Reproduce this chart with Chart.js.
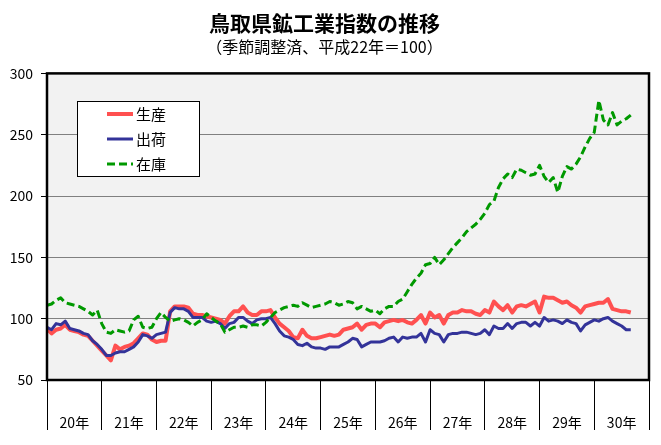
<!DOCTYPE html>
<html>
<head>
<meta charset="utf-8">
<script src="https://cdn.jsdelivr.net/npm/chart.js@4.4.1/dist/chart.umd.min.js"></script>
<style>
  html, body { margin: 0; padding: 0; background: #fff; }
  #wrap { width: 661px; height: 445px; }
</style>
</head>
<body>
<div id="wrap"><canvas id="chart" width="661" height="445"></canvas></div>
<script>
// Year labels (Heisei 20-30), one per 12 months on the x axis
const years = ['20年', '21年', '22年', '23年', '24年', '25年', '26年', '27年', '28年', '29年', '30年'];

// Monthly indices, Jan H20 .. Sep H30
const production = [
  92, 88, 91, 92, 95, 91, 90, 89, 87, 86, 82, 78,
  74, 70, 66, 78, 75, 77, 78, 80, 84, 88, 87, 83,
  81, 82, 82, 106, 110, 110, 110, 109, 104, 103, 103, 102,
  101, 100, 99, 96, 102, 106, 106, 110, 105, 103, 103, 106,
  106, 107, 101, 96, 93, 90, 85, 84, 91, 86, 84, 84,
  85, 86, 87, 86, 87, 91, 92, 93, 96, 91, 95, 96,
  96, 93, 97, 98, 99, 98, 99, 97, 96, 99, 103, 96,
  105, 101, 103, 96, 103, 105, 105, 107, 106, 106, 104, 103,
  107, 105, 114, 110, 107, 111, 105, 110, 111, 110, 112, 114,
  105, 118, 117, 117, 115, 113, 114, 111, 109, 105, 110, 111,
  112, 113, 113, 116, 108, 107, 106, 106, 105
];

const shipments = [
  93, 91, 96, 95, 98, 92, 91, 90, 88, 87, 82, 79,
  75, 70, 70, 72, 73, 73, 75, 77, 81, 87, 86, 84,
  87, 88, 89, 105, 109, 108, 108, 106, 101, 101, 101, 98,
  97, 98, 96, 92, 96, 97, 101, 101, 98, 96, 99, 100,
  100, 101, 96, 90, 86, 85, 83, 79, 78, 80, 77, 76,
  76, 75, 77, 77, 77, 79, 81, 84, 83, 77, 79, 81,
  81, 81, 82, 84, 85, 81, 85, 84, 85, 85, 88, 81,
  91, 88, 87, 81, 87, 88, 88, 89, 89, 88, 87, 88,
  91, 87, 94, 92, 92, 96, 92, 96, 97, 97, 94, 97,
  94, 101, 98, 99, 98, 96, 99, 97, 96, 90, 95, 97,
  99, 98, 100, 101, 98, 96, 94, 91, 91
];

const inventory = [
  111, 112, 115, 117, 113, 112, 111, 110, 108, 106, 103, 107,
  96, 89, 88, 91, 90, 89, 90, 99, 102, 93, 92, 93,
  100, 105, 101, 98, 99, 100, 99, 97, 94, 97, 99, 104,
  101, 98, 96, 89, 91, 93, 93, 94, 93, 95, 95, 94,
  97, 101, 105, 107, 109, 110, 111, 110, 113, 111, 109, 110,
  111, 112, 114, 113, 111, 112, 114, 113, 108, 110, 108, 106,
  107, 104, 108, 110, 110, 114, 116, 122, 128, 133, 137, 144,
  145, 150, 144, 148, 153, 158, 162, 166, 171, 174, 177, 181,
  186, 193, 196, 207, 214, 218, 215, 222, 221, 219, 217, 218,
  225, 216, 211, 215, 203, 216, 224, 222, 226, 232, 240, 247,
  252, 278, 262, 258, 268, 258, 261, 263, 266
];

const months = production.map((_, i) => i);
const FONT = '"Noto Sans CJK JP", "Noto Sans", sans-serif';

Chart.defaults.color = '#000';
Chart.defaults.font.family = FONT;

// grey plot background + black frame around the plot area
const plotFrame = {
  id: 'plotFrame',
  beforeDraw(chart) {
    const { ctx, chartArea: a } = chart;
    ctx.save();
    ctx.fillStyle = '#f2f2f2';
    ctx.fillRect(a.left, a.top, a.right - a.left, a.bottom - a.top);
    ctx.restore();
  },
  afterDatasetsDraw(chart) {
    const { ctx, chartArea: a } = chart;
    ctx.save();
    ctx.strokeStyle = '#000';
    ctx.lineWidth = 2.5;
    ctx.strokeRect(a.left, a.top, a.right - a.left, a.bottom - a.top);
    ctx.restore();
  }
};

// boxed legend inside the plot, top left
const boxLegend = {
  id: 'boxLegend',
  afterDraw(chart) {
    const { ctx, chartArea: a } = chart;
    const x = Math.round(a.left + 30), y = Math.round(a.top + 28), w = 122, h = 75;
    ctx.save();
    ctx.fillStyle = '#fff';
    ctx.fillRect(x, y, w, h);
    ctx.strokeStyle = '#000';
    ctx.lineWidth = 1;
    ctx.strokeRect(x + 0.5, y + 0.5, w, h);
    chart.data.datasets.forEach((ds, k) => {
      const ly = y + 13 + k * 25;
      ctx.beginPath();
      ctx.strokeStyle = ds.borderColor;
      ctx.lineWidth = ds.borderWidth;
      ctx.setLineDash(ds.borderDash || []);
      ctx.moveTo(x + 30, ly);
      ctx.lineTo(x + 56, ly);
      ctx.stroke();
      ctx.setLineDash([]);
      ctx.fillStyle = '#000';
      ctx.font = '15px ' + FONT;
      ctx.textBaseline = 'middle';
      ctx.textAlign = 'left';
      ctx.fillText(ds.label, x + 59, ly);
    });
    ctx.restore();
  }
};

const toPoints = values => values.map((v, i) => ({ x: months[i], y: v }));

new Chart(document.getElementById('chart'), {
  type: 'line',
  data: {
    datasets: [
      { label: '生産', data: toPoints(production), borderColor: '#ff5050', borderWidth: 4, order: 3 },
      { label: '出荷', data: toPoints(shipments), borderColor: '#333399', borderWidth: 3, order: 2 },
      { label: '在庫', data: toPoints(inventory), borderColor: '#009900', borderWidth: 3, borderDash: [8, 4], order: 1 }
    ]
  },
  options: {
    responsive: false,
    animation: false,
    layout: { padding: { left: 0, right: 12, top: 0, bottom: 0 } },
    elements: {
      point: { radius: 0 },
      line: { tension: 0, borderJoinStyle: 'round', fill: false }
    },
    plugins: {
      legend: { display: false },
      tooltip: { enabled: false },
      title: {
        display: true,
        text: '鳥取県鉱工業指数の推移',
        font: { size: 21, weight: 'bold', lineHeight: 1.2 },
        padding: { top: 10, bottom: 0 }
      },
      subtitle: {
        display: true,
        text: '（季節調整済、平成22年＝100）',
        font: { size: 16, lineHeight: 1.2 },
        padding: { top: 2, bottom: 17 }
      }
    },
    scales: {
      x: {
        type: 'linear',
        min: 0,
        max: 132,
        afterBuildTicks: scale => {
          scale.ticks = [];
          for (let v = 0; v <= 132; v += 6) scale.ticks.push({ value: v });
        },
        afterFit: scale => { scale.height = 65; },
        ticks: {
          autoSkip: false,
          maxRotation: 0,
          padding: -16,
          font: { size: 14 },
          callback: v => (v % 12 === 6 ? years[(v - 6) / 12] : '')
        },
        grid: {
          drawOnChartArea: false,
          drawTicks: true,
          tickLength: 50,
          tickColor: ctx => (ctx.tick && ctx.tick.value % 12 === 0 ? '#000' : 'rgba(0,0,0,0)')
        },
        border: { display: false }
      },
      y: {
        min: 50,
        max: 300,
        afterFit: scale => { scale.width = 47; },
        ticks: { stepSize: 50, padding: 8, font: { size: 14 } },
        grid: {
          color: ctx => (ctx.tick && (ctx.tick.value === 50 || ctx.tick.value === 300) ? 'rgba(0,0,0,0)' : '#808080'),
          tickColor: '#000',
          tickLength: 6,
          lineWidth: 1
        },
        border: { display: false }
      }
    }
  },
  plugins: [plotFrame, boxLegend]
});
</script>
</body>
</html>
